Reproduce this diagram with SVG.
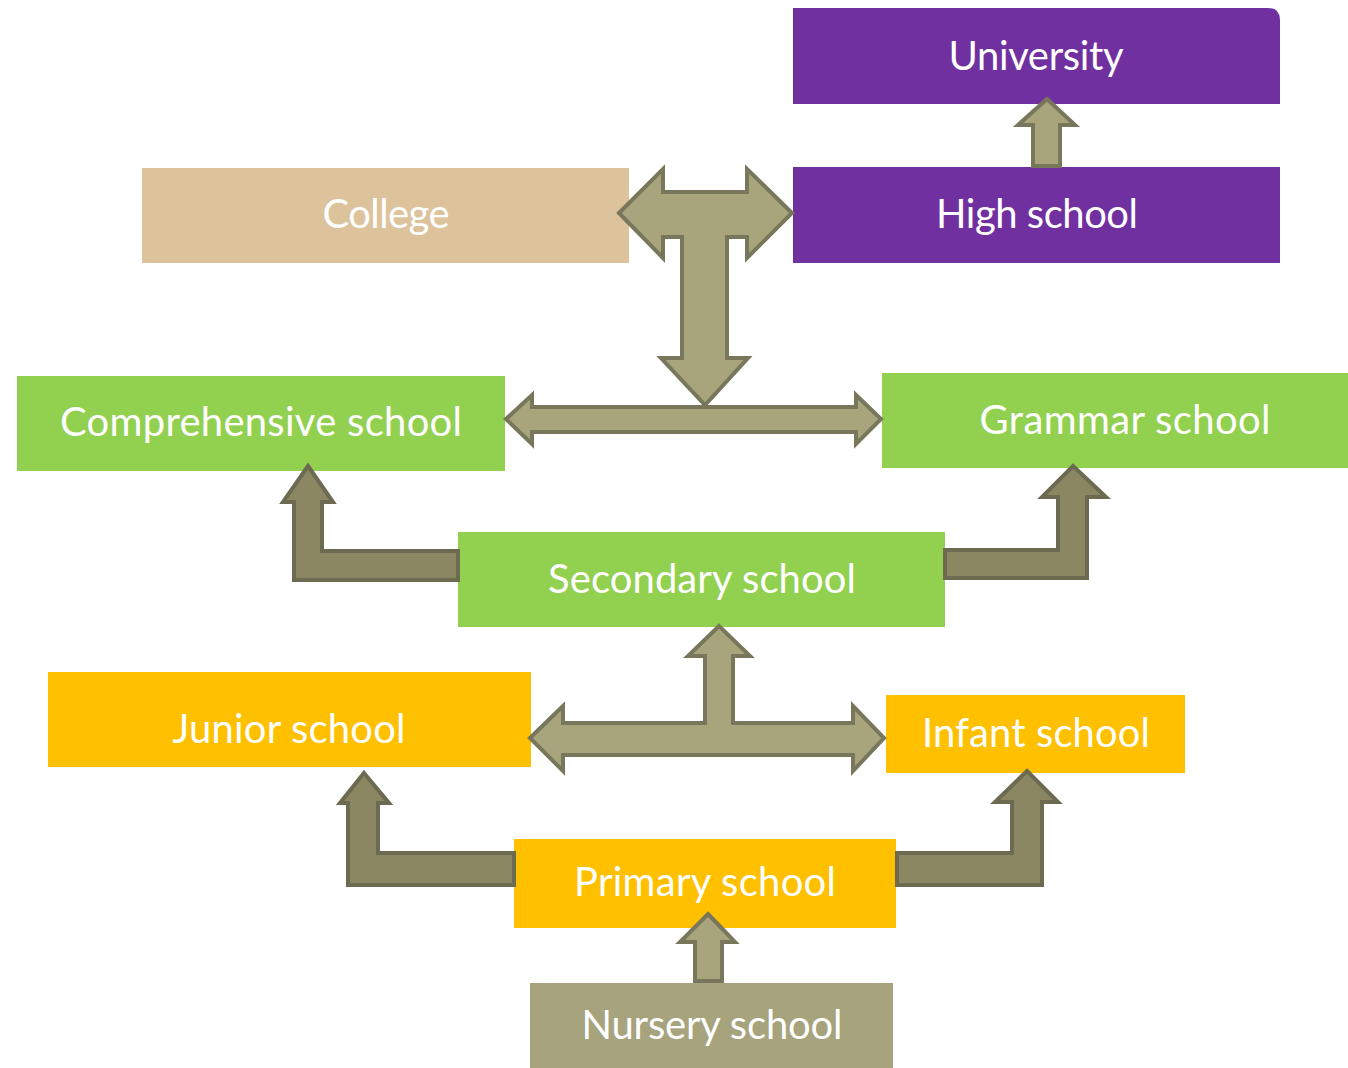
<svg xmlns="http://www.w3.org/2000/svg" width="1348" height="1068" viewBox="0 0 1348 1068">
<style>
.lbl{font-family:"Lato","Open Sans","Liberation Sans",sans-serif;font-size:40px;fill:#ffffff;text-anchor:middle}
.arr{fill:#A8A57C;stroke:#78775B;stroke-width:4;stroke-linejoin:miter}
.arrd{fill:#8C8763;stroke:#6C6A51;stroke-width:4;stroke-linejoin:miter}
</style>
<rect width="1348" height="1068" fill="#ffffff"/>
<g id="university">
<path d="M793,8 H1268 Q1280,8 1280,20 V104 H793 Z" fill="#7030A0"/>
<text class="lbl" x="1036" y="70" textLength="175">University</text>
</g>
<g id="high-school">
<rect x="793" y="167" width="487" height="96" fill="#7030A0"/>
<text class="lbl" x="1037" y="228" textLength="202">High school</text>
</g>
<g id="college">
<rect x="142" y="168" width="487" height="95" fill="#DCC39C"/>
<text class="lbl" x="386" y="228" textLength="127">College</text>
</g>
<g id="comprehensive-school">
<rect x="17" y="376" width="488" height="95" fill="#92D050"/>
<text class="lbl" x="261" y="436" textLength="402">Comprehensive school</text>
</g>
<g id="grammar-school">
<rect x="882" y="373" width="466" height="95" fill="#92D050"/>
<text class="lbl" x="1125" y="434" textLength="291">Grammar school</text>
</g>
<g id="secondary-school">
<rect x="458" y="532" width="487" height="95" fill="#92D050"/>
<text class="lbl" x="702" y="593" textLength="308">Secondary school</text>
</g>
<g id="junior-school">
<rect x="48" y="672" width="483" height="95" fill="#FFC000"/>
<text class="lbl" x="289" y="743" textLength="233">Junior school</text>
</g>
<g id="infant-school">
<rect x="886" y="695" width="299" height="78" fill="#FFC000"/>
<text class="lbl" x="1036" y="747" textLength="228">Infant school</text>
</g>
<g id="primary-school">
<rect x="514" y="839" width="382" height="89" fill="#FFC000"/>
<text class="lbl" x="705" y="896" textLength="262">Primary school</text>
</g>
<g id="nursery-school">
<rect x="530" y="983" width="363" height="85" fill="#A6A37D"/>
<text class="lbl" x="712" y="1039" textLength="261">Nursery school</text>
</g>
<g id="connectors">
<polygon class="arr" points="619,213 663,169 663,192 747,192 747,169 792,213 747,258 747,237 727,237 727,358 748,358 705,405 661,358 682,358 682,237 663,237 663,258"/>
<polygon class="arr" points="506,419 532,395 532,407 856,407 856,395 881,419 856,444 856,432 532,432 532,444"/>
<polygon class="arrd" points="308,466 333,502 322,502 322,551 458,551 458,580 294,580 294,502 283,502"/>
<polygon class="arrd" points="1073,466 1106,497 1087,497 1087,578 945,578 945,550 1058,550 1058,497 1042,497"/>
<polygon class="arr" points="530,738 563,706 563,723 705,723 705,656 688,656 719,626 750,656 733,656 733,723 853,723 853,706 884,738 853,771 853,755 563,755 563,771"/>
<polygon class="arrd" points="364,773 389,803 378,803 378,853 514,853 514,885 348,885 348,803 340,803"/>
<polygon class="arrd" points="1027,771 1058,802 1042,802 1042,885 897,885 897,853 1012,853 1012,802 995,802"/>
<polygon class="arr" points="708,914 735,942 722,942 722,981 695,981 695,942 680,942"/>
<polygon class="arr" points="1047,99 1075,125 1060,125 1060,166 1033,166 1033,125 1018,125"/>
</g>
</svg>
